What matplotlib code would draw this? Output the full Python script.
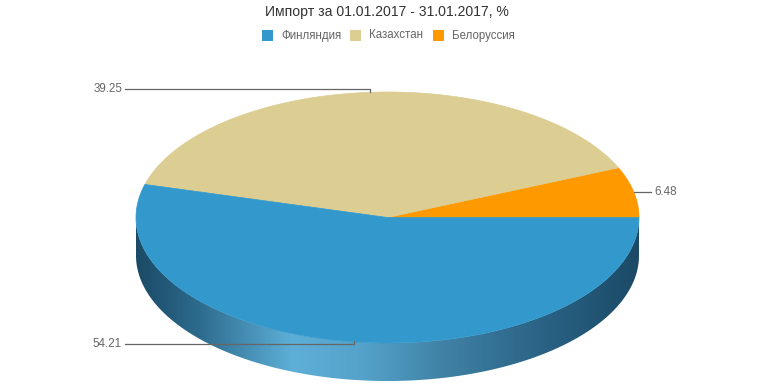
import numpy as np
import matplotlib
matplotlib.use("Agg")
import matplotlib.pyplot as plt
from matplotlib.patches import Polygon, Rectangle
from matplotlib.colors import LinearSegmentedColormap

plt.rcParams['font.family'] = ['Liberation Sans', 'DejaVu Sans']

title = "Импорт за 01.01.2017 - 31.01.2017, %"
categories = ["Финляндия", "Казахстан", "Белоруссия"]
values = [54.21, 39.25, 6.48]
colors = ["#3399cc", "#dccd92", "#ff9900"]
labels = ["54.21", "39.25", "6.48"]

W, H = 774, 387
fig = plt.figure(figsize=(W / 100, H / 100), dpi=100)
ax = fig.add_axes([0, 0, 1, 1])
ax.set_xlim(0, W)
ax.set_ylim(H, 0)
ax.axis('off')

cx, cy = 387.5, 217.5
rx, ry = 251.5, 125.5
depth = 38

def pt(t_deg):
    t = np.radians(t_deg)
    return cx + rx * np.cos(t), cy - ry * np.sin(t)

# Angles: counterclockwise starting at 0 deg with Belarus, then Kazakhstan, then Finland
order = [2, 1, 0]
total = sum(values)
start = 0.0
angles = {}
for i in order:
    span = values[i] / total * 360.0
    angles[i] = (start, start + span)
    start += span

# Side (front visible part from 180 to 360)
ts = np.linspace(180, 360, 300)
top = np.array([pt(t) for t in ts])
bot = top + np.array([0, depth])
side_xy = np.vstack([top, bot[::-1]])
side = Polygon(side_xy, closed=True, facecolor='none', edgecolor='none')
ax.add_patch(side)
cmap = LinearSegmentedColormap.from_list("side", [
    (0.0, "#1b4a66"), (0.12, "#2c6a8c"), (0.31, "#5eafd8"),
    (0.45, "#54a2ca"), (0.62, "#3f80a4"), (0.82, "#296183"), (1.0, "#1b4a66")])
grad = np.linspace(0, 1, 512).reshape(1, -1)
im = ax.imshow(grad, cmap=cmap, aspect='auto',
               extent=(cx - rx, cx + rx, cy + ry + depth + 2, cy - 2), zorder=1)
im.set_clip_path(side)
ax.set_xlim(0, W)
ax.set_ylim(H, 0)

# Top wedges
for i in order:
    a0, a1 = angles[i]
    tt = np.linspace(a0, a1, 200)
    pts = [(cx, cy)] + [pt(t) for t in tt]
    ax.add_patch(Polygon(pts, closed=True, facecolor=colors[i],
                         edgecolor=colors[i], linewidth=0.5, zorder=2))

# Labels with leader lines
lc = "#666666"
fs = 8.4
for i in range(3):
    a0, a1 = angles[i]
    mid = (a0 + a1) / 2
    x, y = pt(mid)
    if i == 1:
        yl = y - 3.5
        ax.plot([x, x, 125], [y, yl, yl], color=lc, lw=0.9, zorder=3)
        ax.text(122, yl, labels[i], ha='right', va='center', fontsize=fs, color=lc, zorder=3)
    elif i == 0:
        yl = y + 2.5
        ax.plot([x, x, 125], [y - 0.5, yl, yl], color=lc, lw=0.9, zorder=3)
        ax.text(122, yl, labels[i], ha='right', va='center', fontsize=fs, color=lc, zorder=3)
    else:
        ax.plot([x, 651], [y, y], color=lc, lw=0.9, zorder=3)
        ax.text(654, y, labels[i], ha='left', va='center', fontsize=fs, color=lc, zorder=3)

# Title
ax.text(W / 2, 12, title, ha='center', va='center', fontsize=10.1, color="#333333")

# Legend
leg_sq = [262, 350, 433]
for k, i in enumerate([0, 1, 2]):
    x0 = leg_sq[k]
    ax.add_patch(Rectangle((x0, 30), 11, 11, facecolor=colors[i], edgecolor='none'))
    ax.text(x0 + 19, 35.5, categories[i], ha='left', va='center', fontsize=8.3, color="#666666")

fig.savefig("out.png", dpi=100)
